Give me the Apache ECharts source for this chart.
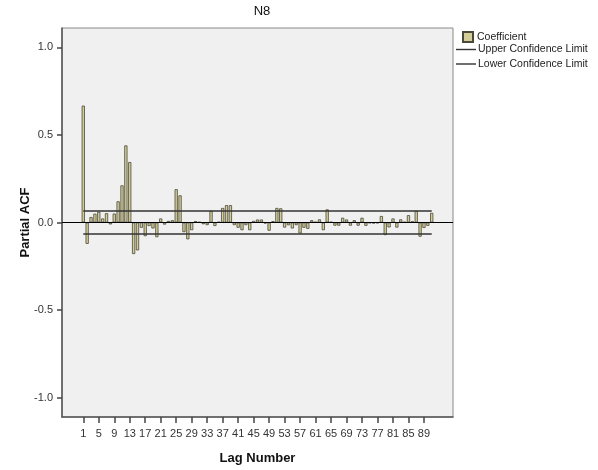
<!DOCTYPE html>
<html>
<head>
<meta charset="utf-8">
<script src="https://cdn.jsdelivr.net/npm/echarts@6/dist/echarts.min.js"></script>
<style>html,body{margin:0;padding:0;background:#fff}#c{width:598px;height:470px}</style>
</head>
<body>
<div id="c"></div>
<script>
const chartTitle = 'N8';
const lags = [1,2,3,4,5,6,7,8,9,10,11,12,13,14,15,16,17,18,19,20,21,22,23,24,25,26,27,28,29,30,
  31,32,33,34,35,36,37,38,39,40,41,42,43,44,45,46,47,48,49,50,51,52,53,54,55,56,57,58,59,60,
  61,62,63,64,65,66,67,68,69,70,71,72,73,74,75,76,77,78,79,80,81,82,83,84,85,86,87,88,89,90,91];
const coefficient = [0.667,-0.122,0.031,0.050,0.061,0.023,0.053,-0.011,0.051,0.121,
  0.212,0.440,0.345,-0.180,-0.159,-0.030,-0.078,-0.020,-0.034,-0.084,
  0.023,-0.012,0.009,0.013,0.190,0.155,-0.055,-0.096,-0.044,0.008,
  0.003,-0.010,-0.015,0.067,-0.020,0.004,0.083,0.099,0.099,-0.015,
  -0.030,-0.044,-0.015,-0.044,0.009,0.017,0.017,-0.006,-0.047,0.008,
  0.083,0.081,-0.029,-0.016,-0.034,-0.015,-0.063,-0.030,-0.036,0.013,
  0.004,0.018,-0.044,0.075,0.004,-0.018,-0.018,0.027,0.017,-0.018,
  0.013,-0.018,0.027,-0.019,-0.004,-0.006,-0.004,0.037,-0.072,-0.028,
  0.023,-0.029,0.018,0.004,0.042,0.007,0.066,-0.081,-0.031,-0.019,0.055];
const upperLimit = 0.066;
const lowerLimit = -0.066;
const xTickLabels = [1,5,9,13,17,21,25,29,33,37,41,45,49,53,57,61,65,69,73,77,81,85,89];
const yTickLabels = [-1.0,-0.5,0.0,0.5,1.0];

const font = 'Liberation Sans, Arial, sans-serif';
const chart = echarts.init(document.getElementById('c'), null, {renderer:'canvas'});
const firstLag = lags[0], lastLag = lags[lags.length-1];
const pathLine = 'path://M0,0H20V1.4H0Z';

chart.setOption({
  animation: false,
  backgroundColor: '#ffffff',
  title: {text: chartTitle, left: 257, top: 0, textAlign: 'center',
    textStyle: {fontFamily: font, fontSize: 13, fontWeight: 'normal', color: '#111'}},
  legend: [
    {data: [{name: 'Coefficient', icon: 'rect'}], orient: 'vertical', left: 462, top: 31,
     itemWidth: 10, itemHeight: 10, itemGap: 0, padding: 0,
     textStyle: {fontFamily: font, fontSize: 10.5, color: '#222', padding: [0,0,0,-1]}},
    {data: [{name: 'Upper Confidence Limit', icon: pathLine}, {name: 'Lower Confidence Limit', icon: pathLine}],
     orient: 'vertical', left: 456, top: 44, itemWidth: 20, itemHeight: 10, itemGap: 3.5, padding: 0,
     textStyle: {fontFamily: font, fontSize: 10.5, color: '#222', padding: [0,0,0,-3]}}
  ],
  grid: {left: 62, top: 28, right: 145, bottom: 50, show: true,
    backgroundColor: '#f0f0f0', borderColor: '#8a8a8a', borderWidth: 1},
  xAxis: {
    type: 'value', min: -4.5, max: 96.5,
    name: 'Lag Number', nameLocation: 'middle', nameGap: 35, nameMoveOverlap: false,
    nameTextStyle: {fontFamily: font, fontSize: 13, fontWeight: 'bold', color: '#111'},
    axisLine: {show: true, onZero: false, lineStyle: {color: '#555', width: 1.5}},
    axisTick: {show: true, length: 6, customValues: xTickLabels, lineStyle: {color: '#444', width: 1.5}},
    axisLabel: {customValues: xTickLabels, fontFamily: font, fontSize: 11, color: '#333', margin: 11},
    splitLine: {show: false}
  },
  yAxis: {
    type: 'value', min: -1.11, max: 1.11,
    name: 'Partial ACF', nameLocation: 'middle', nameGap: 30, nameMoveOverlap: false,
    nameTextStyle: {fontFamily: font, fontSize: 13, fontWeight: 'bold', color: '#111'},
    axisLine: {show: true, onZero: false, lineStyle: {color: '#555', width: 1.5}},
    axisTick: {show: true, length: 5, customValues: yTickLabels, lineStyle: {color: '#444', width: 1.5}},
    axisLabel: {customValues: yTickLabels, fontFamily: font, fontSize: 11, color: '#333', margin: 9,
      formatter: v => Number(v).toFixed(1)},
    splitLine: {show: false}
  },
  series: [
    {name: 'Coefficient', type: 'bar', barWidth: 3.2,
     data: lags.map((l, i) => [l, coefficient[i]]),
     itemStyle: {color: '#d3ce97', borderColor: '#4a4838', borderWidth: 0.8},
     markLine: {silent: true, symbol: 'none', label: {show: false},
       lineStyle: {color: '#000', width: 1, type: 'solid'}, data: [{yAxis: 0}]},
     z: 2},
    {name: 'Upper Confidence Limit', type: 'line', symbol: 'none',
     data: [[firstLag, upperLimit], [lastLag, upperLimit]],
     lineStyle: {color: '#333', width: 1.4}, itemStyle: {color: '#333'}, z: 3},
    {name: 'Lower Confidence Limit', type: 'line', symbol: 'none',
     data: [[firstLag, lowerLimit], [lastLag, lowerLimit]],
     lineStyle: {color: '#333', width: 1.4}, itemStyle: {color: '#333'}, z: 3}
  ]
});
</script>
</body>
</html>
